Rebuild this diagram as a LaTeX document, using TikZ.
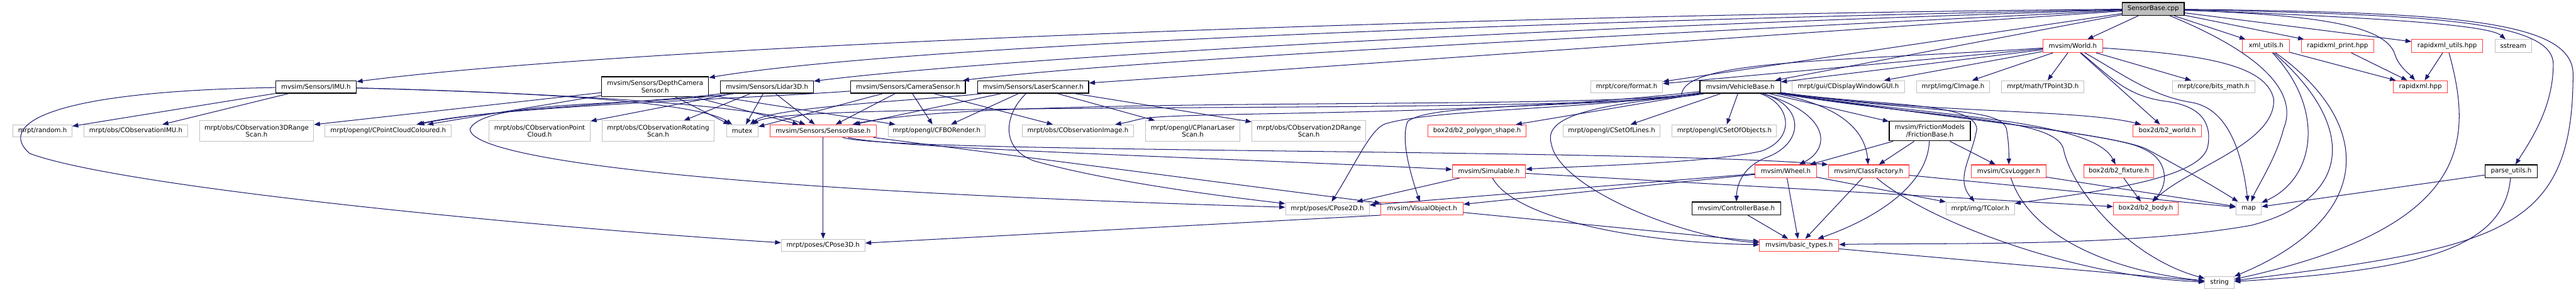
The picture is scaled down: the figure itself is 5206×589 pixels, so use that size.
\documentclass[tikz,border=0pt]{standalone}
\usepackage{fontspec}
\newfontfamily\nodefont{DejaVu Sans}
\usetikzlibrary{arrows.meta}
\definecolor{edgeblue}{RGB}{25,25,112}
\definecolor{boxgray}{RGB}{192,192,192}
\definecolor{boxred}{RGB}{255,64,64}
\definecolor{cppfill}{RGB}{191,191,191}
\newcommand{\mkbox}[6]{\node[#1, minimum width=#2pt, minimum height=#3pt] (#4) at (#5) {#6};}
\begin{document}
\begin{tikzpicture}[x=1pt,y=-1pt,
  nb/.style={rectangle, inner sep=0pt, align=center, fill=white, text=black, font={\nodefont\fontsize{13}{15}\selectfont}},
  gbox/.style={nb, draw=boxgray, line width=1.3pt},
  rbox/.style={nb, draw=boxred, line width=1.3pt},
  kbox/.style={nb, draw=black, line width=1.6pt},
  cbox/.style={nb, draw=black, fill=cppfill, line width=1.6pt},
  edge/.style={draw=edgeblue, line width=1.3pt, -{Triangle[length=12pt,width=9pt]}}]
\useasboundingbox (0,0) rectangle (5206,589);
\fill[white] (0,0) rectangle (5206,589);
% row 0-1
\mkbox{cbox}{125}{26}{cpp}{4351.5,18}{SensorBase.cpp}
\mkbox{rbox}{120}{26}{world}{4189,93}{mvsim/World.h}
\mkbox{rbox}{95}{26}{xmlutils}{4579.5,93}{xml\_utils.h}
\mkbox{rbox}{146}{26}{rxprint}{4724,93}{rapidxml\_print.hpp}
\mkbox{rbox}{143}{26}{rxutils}{4945.5,93}{rapidxml\_utils.hpp}
\mkbox{gbox}{74}{26}{sstream}{5079,93}{sstream}
% row 2
\mkbox{kbox}{163}{25}{imu}{638.5,175.5}{mvsim/Sensors/IMU.h}
\mkbox{kbox}{216}{40}{depth}{1324,175}{mvsim/Sensors/DepthCamera\\Sensor.h}
\mkbox{kbox}{188}{25}{lidar}{1550,175.5}{mvsim/Sensors/Lidar3D.h}
\mkbox{kbox}{232}{25}{camera}{1835,175.5}{mvsim/Sensors/CameraSensor.h}
\mkbox{kbox}{224}{25}{laser}{2088,175.5}{mvsim/Sensors/LaserScanner.h}
\mkbox{gbox}{145}{25}{format}{3287.5,175.5}{mrpt/core/format.h}
\mkbox{kbox}{163}{25}{vehicle}{3517,175.5}{mvsim/VehicleBase.h}
\mkbox{gbox}{227}{25}{gui}{3735.5,175.5}{mrpt/gui/CDisplayWindowGUI.h}
\mkbox{gbox}{148}{25}{cimage}{3947,175.5}{mrpt/img/CImage.h}
\mkbox{gbox}{167}{25}{tpoint}{4128.5,175.5}{mrpt/math/TPoint3D.h}
\mkbox{gbox}{167}{25}{bitsmath}{4473.5,175.5}{mrpt/core/bits\_math.h}
\mkbox{rbox}{109}{25}{rapidxml}{4891.5,175.5}{rapidxml.hpp}
% row 3
\mkbox{gbox}{119}{25}{random}{86,264.5}{mrpt/random.h}
\mkbox{gbox}{209}{25}{obsimu}{274.5,264.5}{mrpt/obs/CObservationIMU.h}
\mkbox{gbox}{231}{41}{obs3d}{518.5,264.5}{mrpt/obs/CObservation3DRange\\Scan.h}
\mkbox{gbox}{255}{25}{pcc}{784.5,264.5}{mrpt/opengl/CPointCloudColoured.h}
\mkbox{gbox}{205}{41}{obspc}{1090.5,264.5}{mrpt/obs/CObservationPoint\\Cloud.h}
\mkbox{gbox}{226}{41}{obsrot}{1330,264.5}{mrpt/obs/CObservationRotating\\Scan.h}
\mkbox{gbox}{64}{25}{mutex}{1500,264.5}{mutex}
\mkbox{rbox}{215}{25}{sbase}{1663.5,264.5}{mvsim/Sensors/SensorBase.h}
\mkbox{gbox}{196}{25}{fbo}{1893,264.5}{mrpt/opengl/CFBORender.h}
\mkbox{gbox}{225}{25}{obsimg}{2178.5,264.5}{mrpt/obs/CObservationImage.h}
\mkbox{gbox}{191}{41}{planar}{2410.5,264.5}{mrpt/opengl/CPlanarLaser\\Scan.h}
\mkbox{gbox}{230}{41}{obs2d}{2645,264.5}{mrpt/obs/CObservation2DRange\\Scan.h}
\mkbox{rbox}{198}{25}{poly}{2985,264.5}{box2d/b2\_polygon\_shape.h}
\mkbox{gbox}{196}{25}{lines}{3257,264.5}{mrpt/opengl/CSetOfLines.h}
\mkbox{gbox}{211}{25}{objs}{3485,264.5}{mrpt/opengl/CSetOfObjects.h}
\mkbox{kbox}{164}{40}{friction}{3900,264.5}{mvsim/FrictionModels\\/FrictionBase.h}
\mkbox{rbox}{138}{25}{b2world}{4380,264.5}{box2d/b2\_world.h}
% row 4
\mkbox{rbox}{148}{26}{simulable}{3009,346}{mvsim/Simulable.h}
\mkbox{rbox}{124}{26}{wheel}{3609,346}{mvsim/Wheel.h}
\mkbox{rbox}{163}{26}{factory}{3776.5,346}{mvsim/ClassFactory.h}
\mkbox{rbox}{151}{26}{csv}{4059.5,346}{mvsim/CsvLogger.h}
\mkbox{rbox}{142}{26}{fixture}{4282,346}{box2d/b2\_fixture.h}
\mkbox{kbox}{106}{26}{parse}{5075,346}{parse\_utils.h}
% row 5
\mkbox{gbox}{169}{26}{pose2d}{2682.5,421}{mrpt/poses/CPose2D.h}
\mkbox{rbox}{166}{26}{visual}{2874,421}{mvsim/VisualObject.h}
\mkbox{kbox}{179}{26}{controller}{3509,421}{mvsim/ControllerBase.h}
\mkbox{gbox}{138}{26}{tcolor}{4002,421}{mrpt/img/TColor.h}
\mkbox{rbox}{131}{26}{b2body}{4336.5,421}{box2d/b2\_body.h}
\mkbox{gbox}{51}{26}{map}{4544.5,421}{map}
% row 6-7
\mkbox{gbox}{169}{25}{pose3d}{1663.5,495.5}{mrpt/poses/CPose3D.h}
\mkbox{rbox}{160}{25}{basic}{3636,495.5}{mvsim/basic\_types.h}
\mkbox{gbox}{59}{25}{string}{4485.5,570.5}{string}

% ---- edges from SensorBase.cpp
\draw[edge] (cpp) .. controls (3000,30) and (1300,90) .. (imu);
\draw[edge] (cpp) .. controls (3000,45) and (1800,95) .. (depth);
\draw[edge] (cpp) .. controls (3000,60) and (2000,120) .. (lidar);
\draw[edge] (cpp) .. controls (3200,75) and (2300,120) .. (camera);
\draw[edge] (cpp) .. controls (3300,90) and (2600,140) .. (laser);
\draw[edge] (cpp) -- (format);
\draw[edge] (cpp) -- (vehicle);
\draw[edge] (cpp) -- (world);
\draw[edge] (cpp) -- (xmlutils);
\draw[edge] (cpp) -- (rxprint);
\draw[edge] (cpp) -- (rxutils);
\draw[edge] (cpp) .. controls (4800,35) and (5030,50) .. (sstream);
\draw[edge] (cpp) .. controls (4650,30) and (4820,45) .. (4840,110) .. controls (4848,135) and (4870,150) .. (rapidxml);
\draw[edge] (cpp) .. controls (4600,120) and (4640,200) .. (4615,260) .. controls (4600,320) and (4560,380) .. (map);
\draw[edge] (cpp) .. controls (4900,30) and (5160,40) .. (5160,130) .. controls (5160,220) and (5110,290) .. (parse);
\draw[edge] (cpp) .. controls (4950,25) and (5200,40) .. (5200,150) .. controls (5200,470) and (5050,500) .. (string);
% ---- World.h
\draw[edge] (world) -- (vehicle);
\draw[edge] (world) -- (format);
\draw[edge] (world) -- (gui);
\draw[edge] (world) -- (cimage);
\draw[edge] (world) -- (tpoint);
\draw[edge] (world) -- (bitsmath);
\draw[edge] (world) -- (b2world);
\draw[edge] (world) .. controls (3700,125) and (3395,120) .. (3398,195) .. controls (3200,215) and (3120,240) .. (3135,290) .. controls (3150,380) and (3400,480) .. (basic);
\draw[edge] (world) .. controls (4450,110) and (4580,130) .. (4595,200) .. controls (4600,290) and (4420,340) .. (b2body);
\draw[edge] (world) .. controls (4270,160) and (4300,195) .. (4380,205) .. controls (4450,215) and (4470,250) .. (4462,295) .. controls (4450,360) and (4250,385) .. (tcolor);
\draw[edge] (world) .. controls (4290,150) and (4350,195) .. (4430,207) .. controls (4500,220) and (4530,300) .. (map);
% ---- IMU
\draw[edge] (imu) -- (random);
\draw[edge] (imu) -- (obsimu);
\draw[edge] (imu) .. controls (1000,185) and (1400,200) .. (mutex);
\draw[edge] (imu) .. controls (1000,185) and (1500,205) .. (sbase);
\draw[edge] (imu) .. controls (60,185) and (2,260) .. (60,310) .. controls (250,380) and (1100,460) .. (pose3d);
% ---- DepthCamera
\draw[edge] (depth) -- (obs3d);
\draw[edge] (depth) -- (pcc);
\draw[edge] (depth) -- (mutex);
\draw[edge] (depth) -- (sbase);
\draw[edge] (depth) -- (fbo);
% ---- Lidar3D
\draw[edge] (lidar) .. controls (1350,205) and (1000,218) .. (pcc);
\draw[edge] (lidar) -- (obspc);
\draw[edge] (lidar) -- (obsrot);
\draw[edge] (lidar) -- (mutex);
\draw[edge] (lidar) -- (sbase);
\draw[edge] ([xshift=30pt]lidar.south west) .. controls (1300,215) and (980,200) .. (950,260) .. controls (945,310) and (1300,380) .. (pose2d);
% ---- CameraSensor
\draw[edge] (camera) .. controls (1500,200) and (1000,215) .. (pcc);
\draw[edge] (camera) -- (mutex);
\draw[edge] (camera) -- (sbase);
\draw[edge] (camera) -- (fbo);
\draw[edge] (camera) -- (obsimg);
% ---- LaserScanner
\draw[edge] (laser) -- (fbo);
\draw[edge] (laser) -- (sbase);
\draw[edge] (laser) .. controls (1900,200) and (1560,215) .. (mutex);
\draw[edge] (laser) -- (planar);
\draw[edge] (laser) -- (obs2d);
\draw[edge] (laser) .. controls (2030,230) and (2020,300) .. (2090,325) .. controls (2250,370) and (2500,400) .. (pose2d);
% ---- SensorBase.h
\draw[edge] (sbase) -- (pose3d);
\draw[edge] (sbase) .. controls (1800,300) and (2500,320) .. (simulable);
\draw[edge] (sbase) -- (visual);
\draw[edge] (sbase) .. controls (1800,310) and (3300,300) .. (factory.north west);
% ---- VehicleBase.h
\draw[edge] (vehicle) .. controls (3200,225) and (2000,190) .. (sbase);
\draw[edge] (vehicle) .. controls (3200,235) and (1600,200) .. (mutex);
\draw[edge] (vehicle) .. controls (3000,235) and (2450,225) .. (2320,238) .. controls (2300,240) and (2290,245) .. (obsimg);
\draw[edge] (vehicle) -- (poly);
\draw[edge] (vehicle) -- (lines);
\draw[edge] (vehicle) -- (objs);
\draw[edge] (vehicle) .. controls (3200,222) and (2900,220) .. (2800,250) .. controls (2770,260) and (2740,330) .. (pose2d);
\draw[edge] (vehicle) .. controls (3200,222) and (2900,205) .. (2845,245) .. controls (2830,280) and (2850,350) .. (visual);
\draw[edge] (vehicle) .. controls (3620,210) and (3630,280) .. (3560,305) .. controls (3450,330) and (3200,335) .. (simulable);
\draw[edge] (vehicle) .. controls (3650,215) and (3645,290) .. (3570,318) .. controls (3525,335) and (3510,370) .. (controller);
\draw[edge] (vehicle) .. controls (3700,230) and (3700,300) .. (wheel);
\draw[edge] (vehicle) .. controls (3730,215) and (3770,270) .. (factory);
\draw[edge] (vehicle) -- (friction);
\draw[edge] (vehicle) .. controls (3800,215) and (3990,205) .. (3995,260) .. controls (3985,320) and (3950,360) .. (tcolor);
\draw[edge] (vehicle) .. controls (3900,230) and (4040,215) .. (4055,260) .. controls (4060,290) and (4060,310) .. (csv);
\draw[edge] (vehicle) .. controls (3900,240) and (4150,235) .. (4170,300) .. controls (4185,380) and (4300,520) .. (string);
\draw[edge] (vehicle) .. controls (3900,235) and (4230,240) .. (fixture);
\draw[edge] (vehicle) .. controls (3900,235) and (4280,270) .. (4330,300) .. controls (4380,320) and (4385,370) .. (b2body);
\draw[edge] (vehicle) .. controls (3900,235) and (4280,270) .. (4340,302) .. controls (4420,345) and (4480,380) .. (map);
\draw[edge] (vehicle) .. controls (3900,230) and (4200,220) .. (b2world);
% ---- lower level
\draw[edge] (simulable) -- (pose2d);
\draw[edge] (simulable) -- (b2body);
\draw[edge] (simulable) .. controls (3060,440) and (3300,490) .. (basic);
\draw[edge] (visual.south west) -- (pose3d);
\draw[edge] (visual) -- (basic);
\draw[edge] (wheel) -- (visual);
\draw[edge] (wheel) -- (pose2d);
\draw[edge] (wheel) -- (tcolor);
\draw[edge] (wheel) -- (basic);
\draw[edge] (factory) -- (basic);
\draw[edge] (factory) -- (map);
\draw[edge] (factory) .. controls (3900,450) and (4200,560) .. (string);
\draw[edge] (csv) -- (map);
\draw[edge] (csv) .. controls (4100,470) and (4250,545) .. (string);
\draw[edge] (friction) -- (wheel);
\draw[edge] (friction) -- (factory);
\draw[edge] (friction) -- (csv);
\draw[edge] (friction) .. controls (3895,380) and (3780,445) .. (basic);
\draw[edge] (controller) -- (basic);
\draw[edge] (fixture) -- (b2body);
\draw[edge] (xmlutils) -- (rapidxml);
\draw[edge] (xmlutils) .. controls (4700,220) and (4680,360) .. (map);
\draw[edge] (xmlutils) .. controls (4760,250) and (4760,400) .. (4550,455) .. controls (4300,500) and (3900,490) .. (basic);
\draw[edge] (xmlutils) .. controls (4800,250) and (4800,440) .. (string);
\draw[edge] (rxprint) -- (rapidxml);
\draw[edge] (rxutils) -- (rapidxml);
\draw[edge] (rxutils) .. controls (5000,290) and (4990,460) .. (string);
\draw[edge] (parse) -- (map);
\draw[edge] (parse) .. controls (5060,500) and (4900,545) .. (string);
\draw[edge] (basic) -- (string);
\end{tikzpicture}
\end{document}
